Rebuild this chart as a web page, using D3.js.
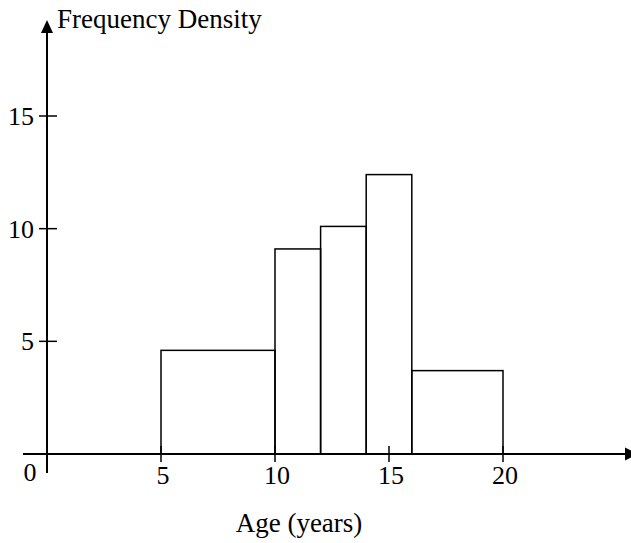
<!DOCTYPE html>
<html><head><meta charset="utf-8">
<script src="https://cdn.jsdelivr.net/npm/d3@7"></script>
<style>
html,body{margin:0;padding:0;background:#fff;}
svg{display:block;}
text{font-family:"Liberation Serif","Times New Roman",serif;fill:#000;}
</style></head>
<body>
<script>
// Data
const binStarts = [5, 10, 12, 14, 16];
const binEnds   = [10, 12, 14, 16, 20];
const freqDensity = [4.6, 9.1, 10.1, 12.4, 3.7];
const xTickValues = [5, 10, 15, 20];
const yTickValues = [5, 10, 15];
const xTitle = "Age (years)";
const yTitle = "Frequency Density";

const W = 631, H = 543;
const svg = d3.select("body").append("svg").attr("width", W).attr("height", H);

const x = d3.scaleLinear().domain([0, 20]).range([47, 503]);
const y = d3.scaleLinear().domain([0, 15]).range([454, 116]);

// Bars
const bins = binStarts.map((s, i) => ({s, e: binEnds[i], v: freqDensity[i]}));
svg.append("g").selectAll("rect").data(bins).join("rect")
  .attr("x", d => x(d.s)).attr("width", d => x(d.e) - x(d.s))
  .attr("y", d => y(d.v)).attr("height", d => y(0) - y(d.v))
  .attr("fill", "none").attr("stroke", "#000").attr("stroke-width", 1.5);

// Axes lines
const x0 = x(0), y0 = y(0);
svg.append("line").attr("x1", 23).attr("x2", 626).attr("y1", y0).attr("y2", y0)
  .attr("stroke", "#000").attr("stroke-width", 2);
svg.append("line").attr("x1", x0).attr("x2", x0).attr("y1", 473).attr("y2", 32)
  .attr("stroke", "#000").attr("stroke-width", 2);
// Arrowheads
svg.append("path").attr("d", `M${x0},20 L${x0-6},33 L${x0+6},33 Z`).attr("fill", "#000");
svg.append("path").attr("d", `M638,${y0} L625,${y0-6.5} L625,${y0+6.5} Z`).attr("fill", "#000");

// X ticks
const xt = svg.append("g");
xt.selectAll("line").data(xTickValues).join("line")
  .attr("x1", d => x(d)).attr("x2", d => x(d))
  .attr("y1", y0 - 8).attr("y2", y0 + 8)
  .attr("stroke", "#000").attr("stroke-width", 1.5);
xt.selectAll("text").data(xTickValues).join("text")
  .attr("x", d => x(d) + 2).attr("y", 484)
  .attr("text-anchor", "middle").attr("font-size", 26).text(d => d);

// Y ticks
const yt = svg.append("g");
yt.selectAll("line").data(yTickValues).join("line")
  .attr("x1", x0 - 8).attr("x2", x0 + 10)
  .attr("y1", d => y(d)).attr("y2", d => y(d))
  .attr("stroke", "#000").attr("stroke-width", 1.5);
yt.selectAll("text").data(yTickValues).join("text")
  .attr("x", 34).attr("y", d => y(d) + 9)
  .attr("text-anchor", "end").attr("font-size", 26).text(d => d);

// Origin label
svg.append("text").attr("x", 30).attr("y", 481).attr("text-anchor", "middle")
  .attr("font-size", 26).text("0");

// Titles
svg.append("text").attr("x", 57).attr("y", 28).attr("font-size", 27).text(yTitle);
svg.append("text").attr("x", 299).attr("y", 532).attr("text-anchor", "middle")
  .attr("font-size", 27).text(xTitle);
</script>
</body></html>
